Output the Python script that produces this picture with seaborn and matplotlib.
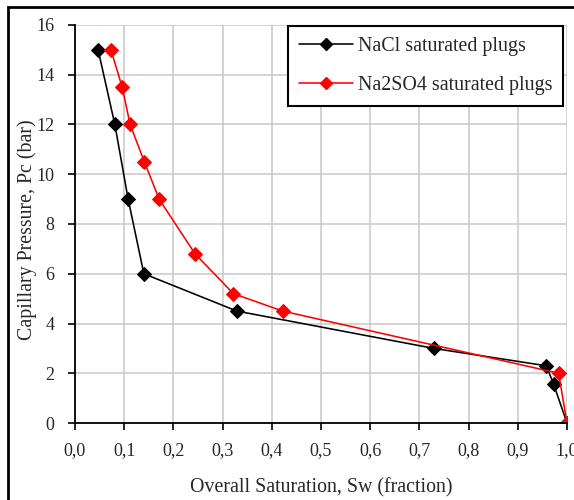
import matplotlib
matplotlib.use("Agg")
import matplotlib.pyplot as plt
import seaborn as sns
import pandas as pd
from matplotlib.patches import Rectangle
from matplotlib.lines import Line2D

# Data
nacl_sw = [0.047, 0.081, 0.108, 0.140, 0.329, 0.729, 0.958, 0.973, 1.0]
nacl_pc = [15.0, 12.0, 9.0, 6.0, 4.5, 3.0, 2.3, 1.55, 0.0]
na2so4_sw = [0.073, 0.096, 0.112, 0.141, 0.171, 0.244, 0.322, 0.422, 0.983, 1.0]
na2so4_pc = [15.0, 13.5, 12.0, 10.5, 9.0, 6.8, 5.2, 4.5, 2.0, 0.0]
series_names = ["NaCl saturated plugs", "Na2SO4 saturated plugs"]
series_colors = ["#000000", "#ff0000"]
x_ticks = [0.0, 0.1, 0.2, 0.3, 0.4, 0.5, 0.6, 0.7, 0.8, 0.9, 1.0]
x_tick_labels = ["0,0", "0,1", "0,2", "0,3", "0,4", "0,5", "0,6", "0,7", "0,8", "0,9", "1,0"]
y_ticks = [0, 2, 4, 6, 8, 10, 12, 14, 16]

df = pd.concat([
    pd.DataFrame({"Sw": nacl_sw, "Pc": nacl_pc, "series": series_names[0]}),
    pd.DataFrame({"Sw": na2so4_sw, "Pc": na2so4_pc, "series": series_names[1]}),
], ignore_index=True)

sns.set_style("white")
plt.rcParams["font.family"] = ["Liberation Serif", "DejaVu Serif"]

fig = plt.figure(figsize=(5.74, 5.0), dpi=100)
ax = fig.add_axes([75/574, 1-423/500, (567-75)/574, (423-25)/500])

sns.lineplot(data=df, x="Sw", y="Pc", hue="series", hue_order=series_names,
             palette=dict(zip(series_names, series_colors)), marker="D", markersize=7,
             linewidth=1.15, sort=False, estimator=None, ax=ax, legend=False, zorder=3)
for line, c in zip(ax.lines, series_colors):
    line.set_markeredgecolor(c)
    line.set_markerfacecolor(c)

ax.set_xlim(0, 1.0)
ax.set_ylim(0, 16)
ax.set_xticks(x_ticks)
ax.set_xticklabels(x_tick_labels)
ax.set_yticks(y_ticks)
ax.tick_params(axis="both", labelsize=13, direction="out", length=5, width=1.2, color="black",
               left=True, bottom=True)
ax.tick_params(axis="x", pad=9)
ax.tick_params(axis="y", pad=10)
ax.grid(True, color="#c8c8c8", linewidth=1.1)
ax.set_axisbelow(True)
for s in ["top", "right"]:
    ax.spines[s].set_visible(False)
for s in ["left", "bottom"]:
    ax.spines[s].set_color("black")
    ax.spines[s].set_linewidth(1.3)
    ax.spines[s].set_zorder(4)

ax.set_xlabel("Overall Saturation, Sw (fraction)", fontsize=14.3, va="center")
ax.set_ylabel("Capillary Pressure, Pc (bar)", fontsize=14.3, va="center")
ax.xaxis.set_label_coords(0.5, (423-488)/398)
ax.yaxis.set_label_coords((27-75)/492, (423-230)/398)

handles = [Line2D([], [], color=c, marker="D", markersize=6, linewidth=1.15) for c in series_colors]
leg = ax.legend(handles, series_names, loc="upper right", bbox_to_anchor=(563/574, 1-26/500),
                bbox_transform=fig.transFigure, fontsize=14.4, frameon=True, fancybox=False,
                edgecolor="black", framealpha=1, handlelength=2.7, handletextpad=0.25,
                labelspacing=1.0, borderpad=0.55, borderaxespad=0)
leg.get_frame().set_linewidth(1.5)
leg.set_zorder(5)

fig.patches.append(Rectangle((8/574, -0.1), 1.2, 1.1 - 7/500, transform=fig.transFigure,
                             fill=False, edgecolor="black", linewidth=2, zorder=10))

fig.savefig("out.png", dpi=100)
